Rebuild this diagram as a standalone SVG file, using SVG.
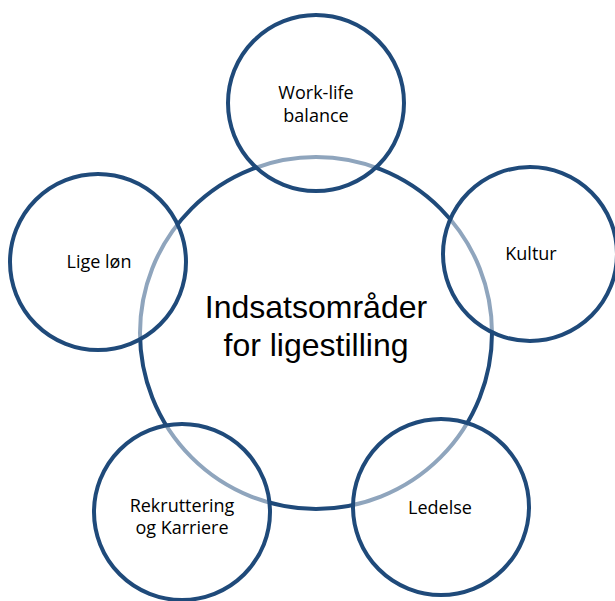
<svg xmlns="http://www.w3.org/2000/svg" width="615" height="601" viewBox="0 0 615 601">
  <style>
    .center { fill: #ffffff; stroke: #1f4a7a; stroke-width: 4; }
    .outer { fill: #ffffff; fill-opacity: 0.5; stroke: #1f4a7a; stroke-width: 4; }
    .lbl { font-family: "Open Sans", "Noto Sans", "Liberation Sans", sans-serif; font-size: 18px; fill: #000000; text-anchor: middle; }
    .big { font-family: "Liberation Sans", "Open Sans", sans-serif; font-size: 32px; fill: #000000; text-anchor: middle; }
  </style>
  <rect width="615" height="601" fill="#ffffff"/>
  <g id="center-node">
    <circle class="center" cx="316" cy="333" r="176"/>
    <text class="big" x="316" y="318"><tspan x="316" y="318">Indsatsområder</tspan><tspan x="316" y="356">for ligestilling</tspan></text>
  </g>
  <g id="connectors"></g>
  <g id="node-worklife">
    <circle class="outer" cx="316" cy="103" r="88"/>
    <text class="lbl" x="316" y="99"><tspan x="316" y="99">Work-life</tspan><tspan x="316" y="122">balance</tspan></text>
  </g>
  <g id="node-kultur">
    <circle class="outer" cx="530" cy="254" r="87"/>
    <text class="lbl" x="531" y="260">Kultur</text>
  </g>
  <g id="node-ledelse">
    <circle class="outer" cx="441" cy="507" r="88"/>
    <text class="lbl" x="440" y="514">Ledelse</text>
  </g>
  <g id="node-rekruttering">
    <circle class="outer" cx="182" cy="512" r="88"/>
    <text class="lbl" x="182" y="512"><tspan x="182" y="512">Rekruttering</tspan><tspan x="182" y="534">og Karriere</tspan></text>
  </g>
  <g id="node-ligelon">
    <circle class="outer" cx="98" cy="262" r="88"/>
    <text class="lbl" x="99" y="268">Lige løn</text>
  </g>
</svg>
